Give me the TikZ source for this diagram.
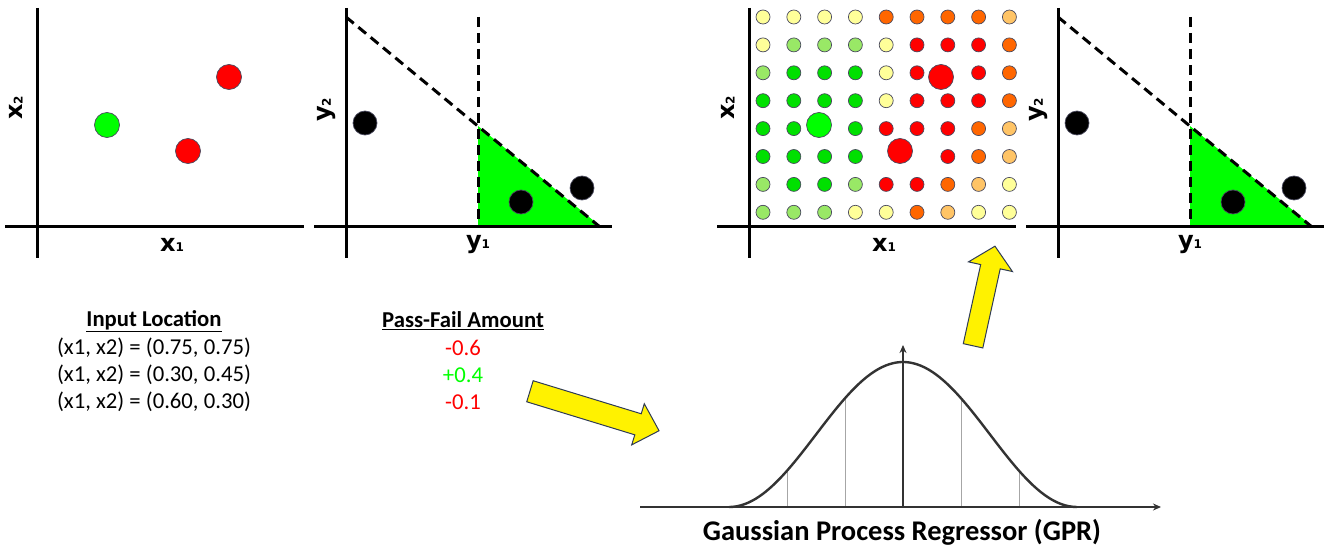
\documentclass[tikz,border=0pt]{standalone}
\usepackage{fontspec}
\setmainfont{Carlito}
\newfontfamily\labelfont{DejaVu Sans}
\usepackage{tikz}
\usetikzlibrary{positioning, arrows.meta}
\definecolor{cY}{HTML}{FFFF99}
\definecolor{cP}{HTML}{99E866}
\definecolor{cG}{HTML}{00E000}
\definecolor{cR}{HTML}{FF0000}
\definecolor{cO}{HTML}{FF6600}
\definecolor{cL}{HTML}{FFC466}
\definecolor{ptgreen}{HTML}{00FF00}
\definecolor{rimgray}{HTML}{4A4A5E}
\definecolor{arrowrim}{HTML}{2F3B55}
\definecolor{gprgray}{HTML}{333333}
\newcommand{\axlab}[2]{{\labelfont\bfseries\fontsize{24}{24}\selectfont #1{\fontsize{12}{12}\selectfont #2}}}

\begin{document}
\begin{tikzpicture}[x=1pt, y=-1pt,
    axis/.style={line width=3pt},
    cutline/.style={line width=3pt, dash pattern=on 10pt off 6pt},
    dot/.style={draw=rimgray, line width=0.7pt},
    bigarrow/.style={draw=arrowrim, fill=yellow, line width=1pt, line join=miter},
    tabletext/.style={font=\fontsize{22.7}{22.7}\selectfont},
    gpraxis/.style={draw=gprgray, line width=1.4pt, -{Stealth[length=8pt, width=7pt]}}]
  \useasboundingbox (0,0) rectangle (1330,548);

  % the two input panels and the two output panels
  \foreach \dx in {0,712} {
    \draw[axis] (37+\dx,8) -- (37+\dx,258);
    \draw[axis] (5+\dx,226) -- (304+\dx,226);
    \node[rotate=90] (xtwo\dx) at (16+\dx,108) {\axlab{x}{2}};
    \node (xone\dx) at (172+\dx,245) {\axlab{x}{1}};

    \fill[ptgreen] (478+\dx,126) -- (478+\dx,226) -- (600+\dx,226) -- cycle;
    \draw[axis] (346+\dx,8) -- (346+\dx,258);
    \draw[axis] (314+\dx,226) -- (612+\dx,226);
    \draw[cutline] (346+\dx,17) -- (600+\dx,227);
    \draw[cutline] (478+\dx,17) -- (478+\dx,226);
    \node[rotate=90] (ytwo\dx) at (327+\dx,110) {\axlab{y}{2}};
    \node (yone\dx) at (478+\dx,245) {\axlab{y}{1}};
    \foreach \px/\py in {365/123, 521/202, 582/188}
      \path[dot, fill=black] (\px+\dx,\py) circle (12pt);
  }

  % predicted grid
  \foreach \row [count=\j from 0] in {{Y,Y,Y,Y,O,O,O,O,L},{Y,P,P,P,Y,R,R,R,O},
      {P,G,G,G,Y,R,N,R,O},{G,G,G,G,Y,R,R,R,O},{G,G,N,G,R,R,R,O,L},
      {G,G,G,G,N,N,R,O,L},{P,G,G,P,R,R,O,L,Y},{P,P,P,Y,Y,O,L,Y,Y}}
    \foreach \c [count=\i from 0] in \row {
      \if\c N\else
        \path[dot, fill=c\c] (763+30.8*\i,17+27.9*\j) circle (7pt);
      \fi
    }

  % sampled points
  \foreach \dx in {0,712} {
    \path[dot, fill=ptgreen] (107+\dx,125) circle (12.5pt);
    \path[dot, fill=cR] (229+\dx,77) circle (12.5pt);
    \path[dot, fill=cR] (188+\dx,151) circle (12.5pt);
  }

  % table
  \node[tabletext] (lochead) at (154,321) {\underline{\textbf{Input Location}}};
  \node[tabletext] (amthead) at (463,321) {\underline{\textbf{Pass-Fail Amount}}};
  \foreach \pt/\val/\col [count=\k] in {{(0.75, 0.75)}/-0.6/cR,
      {(0.30, 0.45)}/+0.4/ptgreen, {(0.60, 0.30)}/-0.1/cR} {
    \node[tabletext] (loc\k) at (154,321+27*\k) {(x1, x2) = \pt};
    \node[tabletext, text=\col] (amt\k) at (463,321+27*\k) {\val};
  }

  % block arrows: centre / angle / length / shaft / head width / head length
  \foreach \cx/\cy/\ang/\len/\sw/\hw/\hl in {594.5/411/-17/135/22/43/22,
      984/296/77.6/102/20/45/21}
    \filldraw[bigarrow, shift={(\cx,\cy)}, rotate=\ang]
      (-\len/2,-\sw/2) -- (\len/2-\hl,-\sw/2) -- (\len/2-\hl,-\hw/2) -- (\len/2,0)
      -- (\len/2-\hl,\hw/2) -- (\len/2-\hl,\sw/2) -- (-\len/2,\sw/2) -- cycle;

  % GPR
  \coordinate (gpro) at (903,507);
  \coordinate (gprleft) at (640,507);
  \coordinate (gprright) at (1161,507);
  \coordinate (gprtop) at (903,345);
  \foreach \u in {-116,-58,58,116}
    \draw[gray!70, line width=0.9pt] (903+\u,507) -- (903+\u,{507-72.5*(1+cos(\u/174*180))});
  \draw[gpraxis] (gprleft) -- (gprright);
  \draw[gpraxis] (gpro) -- (gprtop);
  \draw[gprgray, line width=2.4pt] plot[domain=-174:174, samples=90, smooth]
    ({903+\x},{507-72.5*(1+cos(\x/174*180))});
  \node[font=\fontsize{28.5}{28.5}\selectfont\bfseries] (gprname) at (902,532)
    {Gaussian Process Regressor (GPR)};
\end{tikzpicture}
\end{document}
